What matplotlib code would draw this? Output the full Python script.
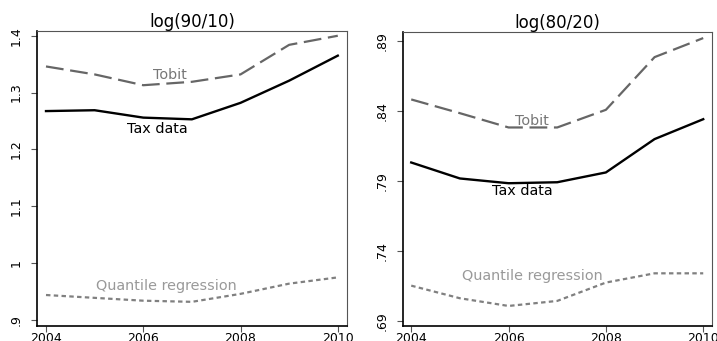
import matplotlib
matplotlib.use('Agg')
import matplotlib.pyplot as plt

years = [2004, 2005, 2006, 2007, 2008, 2009, 2010]

# * log(90/10)
tax_9010 = [1.2675, 1.269, 1.256, 1.253, 1.282, 1.321, 1.365]
tobit_9010 = [1.346, 1.332, 1.313, 1.319, 1.332, 1.384, 1.400]
qreg_9010 = [0.944, 0.939, 0.934, 0.932, 0.946, 0.964, 0.975]
yticks_9010 = [0.9, 1.0, 1.1, 1.2, 1.3, 1.4]
ylabels_9010 = ['.9', '1', '1.1', '1.2', '1.3', '1.4']

# * log(80/20)
tax_8020 = [0.8031, 0.7917, 0.7883, 0.7890, 0.7960, 0.8198, 0.8340]
tobit_8020 = [0.8481, 0.8383, 0.8281, 0.8281, 0.8407, 0.8783, 0.8919]
qreg_8020 = [0.7152, 0.7062, 0.7007, 0.7043, 0.7174, 0.7240, 0.7240]
yticks_8020 = [0.69, 0.74, 0.79, 0.84, 0.89]
ylabels_8020 = ['.69', '.74', '.79', '.84', '.89']

xticks = [2004, 2006, 2008, 2010]

fig = plt.figure(figsize=(7.17, 3.41), dpi=100)
ax1 = fig.add_axes([0.0516, 0.044, 0.4324, 0.865])
ax2 = fig.add_axes([0.562, 0.044, 0.431, 0.862])


def draw(ax, title, tax, tobit, qreg, yticks, ylabels, ylim, xlim, lab_pos):
    ax.plot(years, tax, color='black', lw=1.7, solid_joinstyle='round')
    ax.plot(years, tobit, color='#666666', lw=1.6, dashes=(8, 3))
    ax.plot(years, qreg, color='#808080', lw=1.6, dashes=(2, 1.5))
    ax.set_xlim(xlim)
    ax.set_ylim(ylim)
    ax.set_xticks(xticks)
    ax.set_xticklabels([str(x) for x in xticks], fontsize=9)
    ax.set_yticks(yticks)
    ax.set_yticklabels(ylabels, fontsize=9, rotation=90, va='center')
    ax.tick_params(axis='both', length=4, color='#555555', width=0.8)
    ax.tick_params(axis='x', pad=0.5)
    ax.tick_params(axis='y', pad=6)
    ax.set_title(title, fontsize=12, pad=3)
    for side in ['left', 'bottom']:
        ax.spines[side].set_color('black')
        ax.spines[side].set_linewidth(1.2)
    for side in ['top', 'right']:
        ax.spines[side].set_color('#555555')
        ax.spines[side].set_linewidth(0.8)
    ax.text(*lab_pos[0], 'Tobit', color='#777777', fontsize=10.4, ha='center', va='center')
    ax.text(*lab_pos[1], 'Tax data', color='black', fontsize=10.4, ha='center', va='center')
    ax.text(*lab_pos[2], 'Quantile regression', color='#999999', fontsize=10.4, ha='center', va='center')


draw(ax1, 'log(90/10)', tax_9010, tobit_9010, qreg_9010, yticks_9010, ylabels_9010,
     (0.8895, 1.4083), (2003.815, 2010.19),
     [(2006.55, 1.331), (2006.28, 1.236), (2006.47, 0.960)])
draw(ax2, 'log(80/20)', tax_8020, tobit_8020, qreg_8020, yticks_8020, ylabels_8020,
     (0.6864, 0.8962), (2003.83, 2010.18),
     [(2006.48, 0.8326), (2006.29, 0.7826), (2006.48, 0.7219)])

fig.savefig('out.png', dpi=100)
